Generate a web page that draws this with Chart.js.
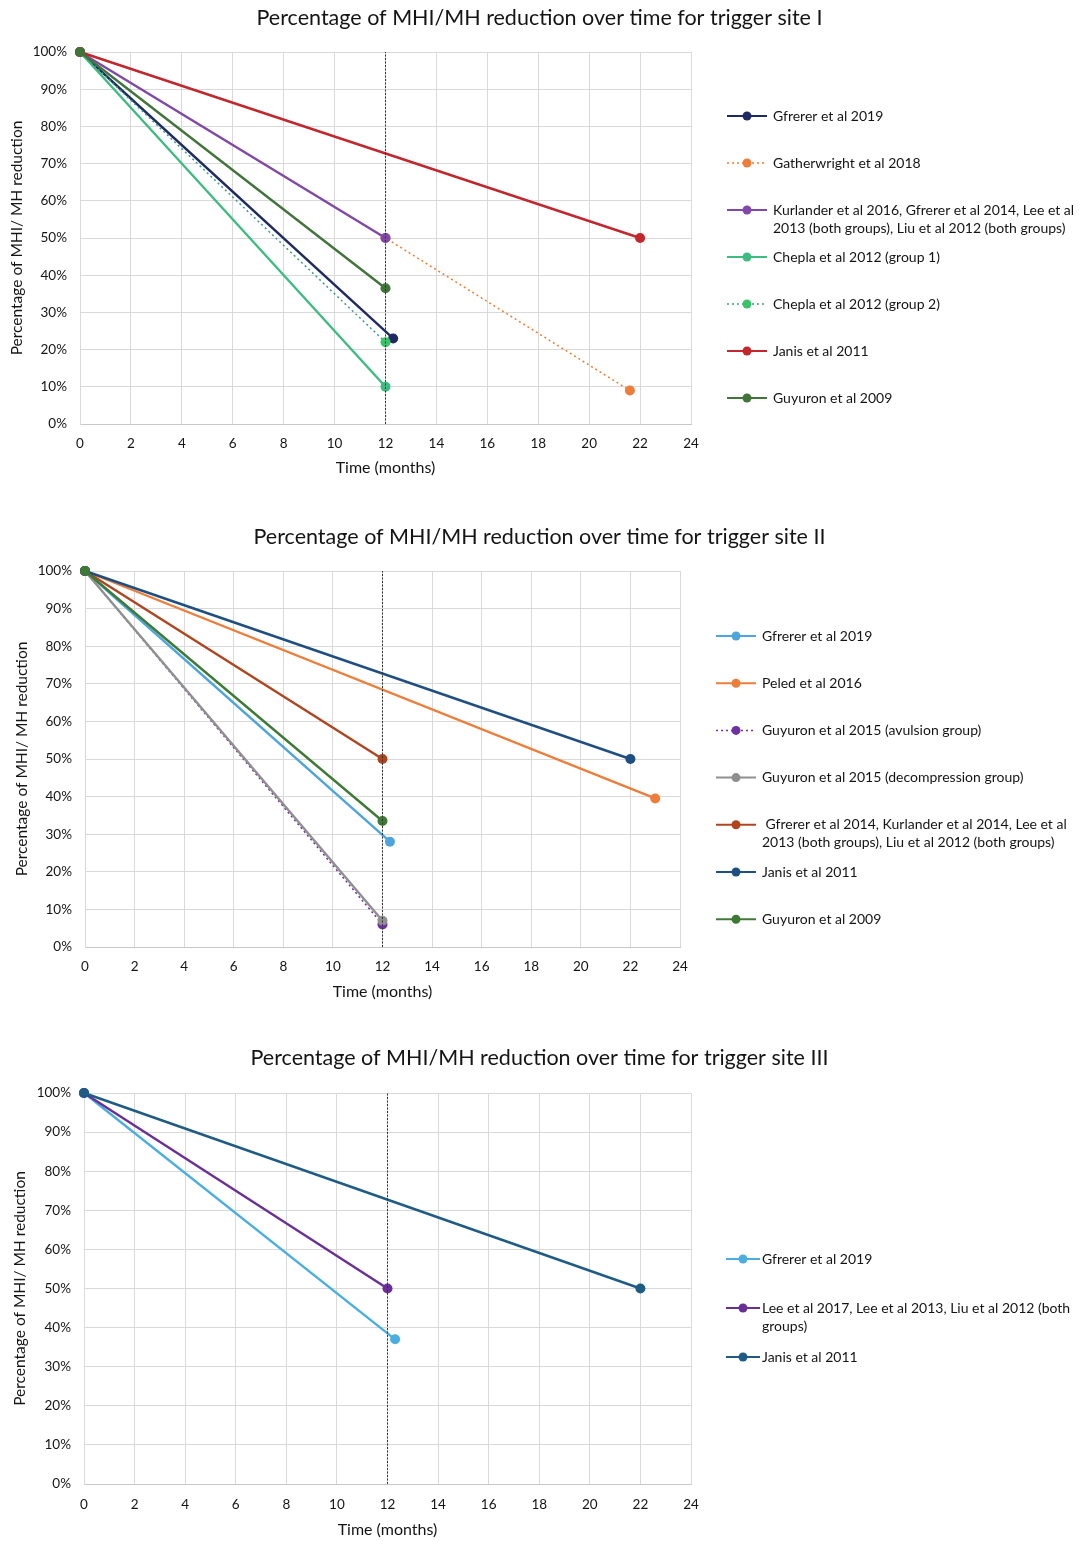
<!DOCTYPE html>
<html lang="en">
<head>
<meta charset="UTF-8">
<title>Percentage of MHI/MH reduction over time</title>
<script src="https://cdn.jsdelivr.net/npm/chart.js"></script>
<style>
    body {
        margin: 0;
        background: #fff;
        width: 1079px;
        height: 1541px;
        position: relative;
        overflow: hidden;
    }
    .box { position: absolute; left: 0; width: 1079px; }
    #box1 { top: 0; height: 485px; }
    #box2 { top: 520px; height: 490px; }
    #box3 { top: 1040px; height: 501px; }
</style>
</head>
<body>
<div class="box" id="box1"><canvas id="site1"></canvas></div>
<div class="box" id="box2"><canvas id="site2"></canvas></div>
<div class="box" id="box3"><canvas id="site3"></canvas></div>

<script>
// shared axes
const monthTicks = [0, 2, 4, 6, 8, 10, 12, 14, 16, 18, 20, 22, 24];
const percentTicks = [0, 10, 20, 30, 40, 50, 60, 70, 80, 90, 100];
const followUpMonth = 12;
const yAxisTitle = "Percentage of MHI/ MH reduction";
const xAxisTitle = "Time (months)";

// trigger site I
const site1Title = "Percentage of MHI/MH reduction over time for trigger site I";
const site1Labels = [
    "Gfrerer et al 2019",
    "Gatherwright et al 2018",
    "Kurlander et al 2016, Gfrerer et al 2014, Lee et al 2013 (both groups), Liu et al 2012 (both groups)",
    "Chepla et al 2012 (group 1)",
    "Chepla et al 2012 (group 2)",
    "Janis et al 2011",
    "Guyuron et al 2009"
];
const site1Months = [[0, 12.3], [0, 12, 21.6], [0, 12], [0, 12], [0, 12], [0, 22], [0, 12]];
const site1Values = [[100, 23], [100, 50, 9], [100, 50], [100, 10], [100, 22], [100, 50], [100, 36.5]];

// trigger site II
const site2Title = "Percentage of MHI/MH reduction over time for trigger site II";
const site2Labels = [
    "Gfrerer et al 2019",
    "Peled et al 2016",
    "Guyuron et al 2015 (avulsion group)",
    "Guyuron et al 2015 (decompression group)",
    " Gfrerer et al 2014, Kurlander et al 2014, Lee et al 2013 (both groups), Liu et al 2012 (both groups)",
    "Janis et al 2011",
    "Guyuron et al 2009"
];
const site2Months = [[0, 12.3], [0, 23], [0, 12], [0, 12], [0, 12], [0, 22], [0, 12]];
const site2Values = [[100, 28], [100, 39.5], [100, 6], [100, 7], [100, 50], [100, 50], [100, 33.5]];

// trigger site III
const site3Title = "Percentage of MHI/MH reduction over time for trigger site III";
const site3Labels = [
    "Gfrerer et al 2019",
    "Lee et al 2017, Lee et al 2013, Liu et al 2012 (both groups)",
    "Janis et al 2011"
];
const site3Months = [[0, 12.3], [0, 12], [0, 22]];
const site3Values = [[100, 37], [100, 50], [100, 50]];

// styles
const site1Colors = ["#1f2a63", "#ed7d31", "#8048a8", "#3dbb80", "#3a9c88", "#c1272d", "#41733a"];
const site1Markers = ["#1f2a63", "#ee7d3a", "#8048a8", "#3dbb80", "#3cc36a", "#c1272d", "#41733a"];
const site1Dotted = [false, true, false, false, true, false, false];

const site2Colors = ["#4ea5dc", "#ee7d3a", "#7030a0", "#8f8f8f", "#b0441f", "#1f4f82", "#3e7a36"];
const site2Dotted = [false, false, true, false, false, false, false];

const site3Colors = ["#4aaee0", "#6a2f96", "#1e5c86"];
const site3Dotted = [false, false, false];

const fontFamily = "Lato, 'Liberation Sans', sans-serif";
const textColor = "#141414";

function wrapText(ctx, text, maxWidth) {
    const words = text.split(" ");
    const lines = [];
    let line = words[0];
    for (let i = 1; i < words.length; i++) {
        const test = line + " " + words[i];
        if (ctx.measureText(test).width > maxWidth) {
            lines.push(line);
            line = words[i];
        } else {
            line = test;
        }
    }
    lines.push(line);
    return lines;
}

// legend drawn at the right, like the Excel one
const sideLegend = {
    id: "sideLegend",
    afterDraw(chart, args, opts) {
        const ctx = chart.ctx;
        ctx.save();
        ctx.font = "14px " + fontFamily;
        ctx.textBaseline = "middle";
        let y = opts.top;
        chart.data.datasets.forEach(ds => {
            if (ds.guide) return;
            const lines = wrapText(ctx, ds.label, opts.maxWidth);
            ctx.strokeStyle = ds.borderColor;
            ctx.lineWidth = ds.borderDash.length ? 1.5 : 2;
            ctx.setLineDash(ds.borderDash);
            ctx.beginPath();
            ctx.moveTo(opts.lineX0, y);
            ctx.lineTo(opts.lineX1, y);
            ctx.stroke();
            ctx.setLineDash([]);
            ctx.fillStyle = ds.pointBackgroundColor;
            ctx.beginPath();
            ctx.arc((opts.lineX0 + opts.lineX1) / 2, y, 4.5, 0, Math.PI * 2);
            ctx.fill();
            ctx.fillStyle = textColor;
            lines.forEach((t, i) => ctx.fillText(t, opts.textX, y + i * 18));
            y += opts.step;
        });
        ctx.restore();
    }
};

function buildChart(id, title, labels, months, values, colors, markers, dotted, box) {
    const n = labels.length;
    const datasets = labels.map((label, i) => ({
        label: label,
        data: months[i].map((m, j) => ({ x: m, y: values[i][j] })),
        borderColor: colors[i],
        backgroundColor: markers[i],
        pointBackgroundColor: markers[i],
        pointBorderColor: markers[i],
        pointRadius: 5,
        pointBorderWidth: 0,
        borderWidth: dotted[i] ? 1.5 : 2.4,
        borderDash: dotted[i] ? [2, 3] : [],
        order: n - i,
        clip: false,
        tension: 0
    }));
    datasets.push({
        label: "12 months",
        guide: true,
        data: [{ x: followUpMonth, y: 0 }, { x: followUpMonth, y: 100 }],
        borderColor: "#333",
        borderWidth: 1,
        borderDash: [2, 1.5],
        pointRadius: 0,
        order: 0
    });

    return new Chart(document.getElementById(id), {
        type: "line",
        data: { datasets: datasets },
        options: {
            responsive: true,
            maintainAspectRatio: false,
            animation: false,
            events: [],
            layout: { padding: 0 },
            plugins: {
                legend: { display: false },
                tooltip: { enabled: false },
                title: {
                    display: true,
                    text: title,
                    color: textColor,
                    font: { family: fontFamily, size: 21.5, weight: "normal" },
                    padding: { top: box.titleTop, bottom: box.top - box.titleTop - 25.8 }
                },
                sideLegend: box.legend
            },
            scales: {
                x: {
                    type: "linear",
                    min: 0,
                    max: 24,
                    afterBuildTicks: s => { s.ticks = monthTicks.map(v => ({ value: v })); },
                    afterFit: s => { s.height = box.height - box.bottom; },
                    grid: { color: "#d9d9d9", drawTicks: false },
                    border: { color: "#c8c8c8" },
                    ticks: { color: textColor, padding: box.xTickPad, font: { family: fontFamily, size: 13.5 } },
                    title: {
                        display: true,
                        text: xAxisTitle,
                        color: textColor,
                        padding: { top: 0, bottom: box.xTitlePad },
                        font: { family: fontFamily, size: 16 }
                    }
                },
                y: {
                    min: 0,
                    max: 100,
                    afterBuildTicks: s => { s.ticks = percentTicks.map(v => ({ value: v })); },
                    afterFit: s => { s.width = box.left; },
                    grid: { color: "#d9d9d9", drawTicks: false },
                    border: { color: "#d9d9d9" },
                    ticks: {
                        color: textColor,
                        padding: 13,
                        font: { family: fontFamily, size: 13.5 },
                        callback: v => v + "%"
                    },
                    title: {
                        display: true,
                        text: yAxisTitle,
                        color: textColor,
                        padding: { top: box.yTitlePad, bottom: 0 },
                        font: { family: fontFamily, size: 15.5 }
                    }
                },
                // empty right-hand axis that keeps room for the legend
                side: {
                    position: "right",
                    grid: { display: false },
                    border: { display: false },
                    ticks: { display: false },
                    afterFit: s => { s.width = 1079 - box.right; }
                }
            }
        },
        plugins: [sideLegend]
    });
}

buildChart("site1", site1Title, site1Labels, site1Months, site1Values, site1Colors, site1Markers, site1Dotted, {
    height: 485, left: 80, right: 691, top: 52, bottom: 424,
    titleTop: 5, xTickPad: 12, xTitlePad: 8, yTitlePad: 8,
    legend: { top: 116, step: 47, lineX0: 727, lineX1: 767, textX: 773, maxWidth: 305 }
});

buildChart("site2", site2Title, site2Labels, site2Months, site2Values, site2Colors, site2Colors, site2Dotted, {
    height: 490, left: 85, right: 680, top: 51, bottom: 427,
    titleTop: 4, xTickPad: 12, xTitlePad: 9, yTitlePad: 13,
    legend: { top: 116, step: 47.2, lineX0: 716, lineX1: 756, textX: 762, maxWidth: 312 }
});

buildChart("site3", site3Title, site3Labels, site3Months, site3Values, site3Colors, site3Colors, site3Dotted, {
    height: 501, left: 84, right: 691, top: 53, bottom: 444,
    titleTop: 5, xTickPad: 13, xTitlePad: 2, yTitlePad: 11,
    legend: { top: 219, step: 49, lineX0: 726, lineX1: 760, textX: 762, maxWidth: 330 }
});
</script>
</body>
</html>
